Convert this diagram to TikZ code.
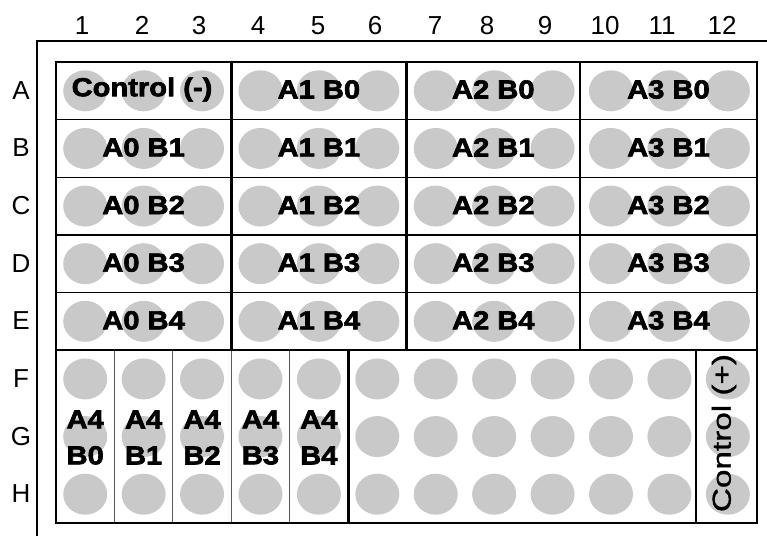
\documentclass[tikz,border=0pt]{standalone}
\usepackage{fontspec}
\setmainfont{Liberation Sans}
\newfontfamily\lblfont[FakeStretch=1.12,FakeBold=2.5]{Liberation Sans Bold}
\newfontfamily\ctlfont[FakeStretch=1.28,FakeBold=1.2]{Liberation Sans}
\begin{document}
\begin{tikzpicture}[x=1pt,y=-1pt,
  well/.style={fill=black!21},
  thick line/.style={line width=2.8pt,line cap=rect},
  thin line/.style={line width=1.5pt},
  sep line/.style={line width=1pt,draw=black!65},
  frame line/.style={line width=2.2pt},
  axislbl/.style={font=\fontsize{26}{26}\selectfont,inner sep=0pt,anchor=base},
  grplbl/.style={font=\lblfont\fontsize{26}{36}\selectfont,inner sep=0pt,align=center},
  ctllbl/.style={font=\ctlfont\fontsize{26}{26}\selectfont,inner sep=0pt,rotate=90}]
\useasboundingbox (0,0) rectangle (767,536);
% outer plate frame (partial)
\draw[frame line] (37,536) -- (37,41) -- (767,41);
% wells
\foreach \i in {1,...,12}{
  \foreach \j in {1,...,8}{
    \fill[well] ({56+(\i-0.5)*58.42},{62+(\j-0.5)*57.625}) ellipse [x radius=22, y radius=20.5];
  }
}
% thin row dividers in rows A-E
\foreach \j in {1,...,4}{
  \draw[thin line] (56,{62+\j*57.625}) -- (757,{62+\j*57.625});
}
% thin column dividers in A4 area
\foreach \i in {1,...,4}{
  \draw[sep line] ({56+\i*58.42},350) -- ({56+\i*58.42},523);
}
% thick group lines
\draw[thick line] (56,350) -- (757,350);
\draw[thick line] (231.3,62) -- (231.3,350);
\draw[thick line] (406.5,62) -- (406.5,350);
\draw[thick line] (580,62) -- (580,350);
\draw[thick line] (348.5,350) -- (348.5,523);
\draw[thick line] (696,350) -- (696,523);
\draw[thick line] (56,62) rectangle (757,523);
% column numbers
\foreach \n/\x in {1/82,2/142,3/199,4/258,5/318,6/375,7/435,8/487,9/545,10/605,11/662,12/722}{
  \node[axislbl] (col\n) at (\x,34.5) {\n};
}
% row letters
\foreach \r [count=\j] in {A,B,C,D,E,F,G,H}{
  \node[axislbl] (row\r) at (21,{62+(\j-0.5)*57.625+8.5}) {\r};
}
% group labels rows A-E
\node[grplbl] (ctlneg) at (142,89.5) {Control (-)};
\foreach \a/\x in {1/318.9,2/493.3,3/668.5}{
  \node[grplbl] (gA\a B0) at (\x,89.5) {A\a{} B0};
}
\foreach \b in {1,...,4}{
  \node[grplbl] (gA0B\b) at (143.6,{62+(\b+0.5)*57.625-1}) {A0 B\b};
  \foreach \a/\x in {1/318.9,2/493.3,3/668.5}{
    \node[grplbl] (gA\a B\b) at (\x,{62+(\b+0.5)*57.625-1}) {A\a{} B\b};
  }
}
% A4 labels
\foreach \b in {0,...,4}{
  \node[grplbl] (gA4B\b) at ({56+(\b+0.5)*58.42},437.5) {A4\\B\b};
}
% control (+)
\node[ctllbl] (ctlpos) at (724,433) {Control (+)};
\end{tikzpicture}
\end{document}
